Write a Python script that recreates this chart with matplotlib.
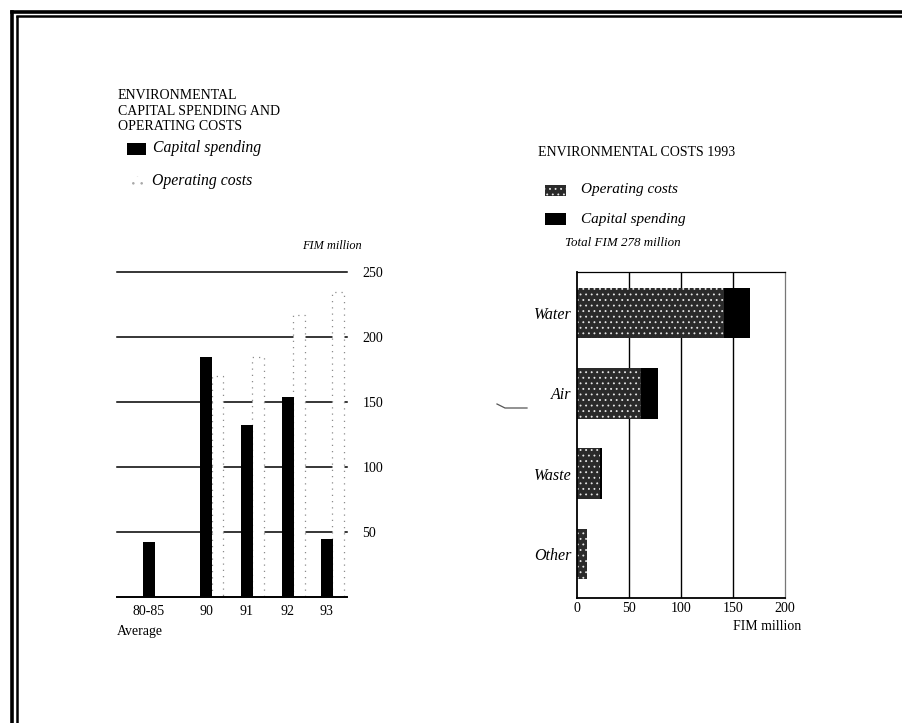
import matplotlib
matplotlib.use('Agg')
import matplotlib.pyplot as plt
import numpy as np
from matplotlib.patches import Rectangle
from matplotlib.lines import Line2D
from matplotlib.transforms import blended_transform_factory

plt.rcParams['font.family'] = ['Liberation Serif', 'DejaVu Serif']
plt.rcParams['hatch.linewidth'] = 0.6

# ---------------- data ----------------
# Left chart: environmental capital spending and operating costs (FIM million)
years = ['80-85', '90', '91', '92', '93']
capital_spending = [42, 185, 132, 154, 45]
operating_costs = [0, 170, 185, 217, 235]
left_yticks = [50, 100, 150, 200, 250]

# Right chart: environmental costs 1993 by area (FIM million)
areas = ['Water', 'Air', 'Waste', 'Other']
area_operating = [141, 62, 22, 10]
area_capital = [25, 16, 2, 0]
right_xticks = [0, 50, 100, 150, 200]

W, H = 903, 723
fig = plt.figure(figsize=(W / 100, H / 100), dpi=100)
fig.patch.set_facecolor('white')


def fx(x):
    return x / W


def fy(y):
    return 1 - y / H


def px_axes(x0, y0, x1, y1):
    return fig.add_axes([fx(x0), fy(y1), fx(x1) - fx(x0), fy(y0) - fy(y1)])


# ---------------- page border ----------------
for (xa, ya, xb, yb, lw) in [(12, 12, 12, 723, 2.6), (17, 17, 17, 723, 1.8),
                             (12, 12, 903, 12, 2.6), (17, 16, 903, 16, 1.8)]:
    fig.add_artist(Line2D([fx(xa), fx(xb)], [fy(ya), fy(yb)], color='black',
                          lw=lw, transform=fig.transFigure))

# ---------------- left chart ----------------
axL = px_axes(117, 272, 347, 597)
positions = np.array([0, 1.39, 2.39, 3.39, 4.34])
bw = 0.29
op_off = 0.28
axL.set_xlim(-0.78, 4.83)
axL.set_ylim(0, 250)
for v in left_yticks:
    axL.axhline(v, color='black', lw=1.1, zorder=1, clip_on=False)
axL.axhline(0, color='black', lw=1.4, zorder=4, clip_on=False)

op_pos = [p + op_off for p, v in zip(positions, operating_costs) if v > 0]
op_val = [v for v in operating_costs if v > 0]
axL.bar(op_pos, op_val, width=bw, color='white', edgecolor='#8c8c8c',
        linestyle=(0, (1, 4)), linewidth=0.9, zorder=2)
axL.bar(positions, capital_spending, width=bw, color='black', zorder=3)

for s in axL.spines.values():
    s.set_visible(False)
axL.yaxis.tick_right()
axL.set_yticks(left_yticks)
axL.set_yticklabels([str(v) for v in left_yticks], fontsize=10)
axL.tick_params(axis='y', length=0, pad=11)
for lab in axL.get_yticklabels():
    lab.set_horizontalalignment('left')
axL.set_xticks(positions)
axL.set_xticklabels(years, fontsize=10)
axL.tick_params(axis='x', length=0, pad=6)
axL.text(positions[0] + 0.33, -0.085, 'Average', fontsize=10, ha='right', va='top',
         transform=blended_transform_factory(axL.transData, axL.transAxes))

fig.text(fx(362), fy(246), 'FIM million', fontsize=8.8, style='italic',
         ha='right', va='center')

fig.text(fx(118), fy(89), 'ENVIRONMENTAL\nCAPITAL SPENDING AND\nOPERATING COSTS',
         fontsize=10, ha='left', va='top', linespacing=1.26)

fig.add_artist(Rectangle((fx(127), fy(155)), fx(146) - fx(127), fy(143) - fy(155),
                         facecolor='black', edgecolor='none', transform=fig.transFigure))
fig.text(fx(153), fy(148), 'Capital spending', fontsize=11.3, style='italic',
         ha='left', va='center')
fig.add_artist(Rectangle((fx(130), fy(187)), fx(144) - fx(130), fy(176) - fy(187),
                         facecolor='white', edgecolor='#a8a8a8', hatch='..', lw=0,
                         transform=fig.transFigure))
fig.text(fx(152), fy(181), 'Operating costs', fontsize=11.3, style='italic',
         ha='left', va='center')

# ---------------- right chart ----------------
axR = px_axes(577, 272, 785, 598)
ypos = np.arange(len(areas))
bh = 0.63
axR.set_xlim(0, 200)
axR.set_ylim(3.55, -0.51)
for v in right_xticks[1:-1]:
    axR.axvline(v, color='black', lw=1.0, zorder=1)
axR.barh(ypos, area_operating, height=bh, color='#2a2a2a', edgecolor='#e8e8e8',
         hatch='...', linewidth=0, zorder=2)
axR.barh(ypos, area_capital, left=area_operating, height=bh, color='black',
         linewidth=0, zorder=2)
for name, s in axR.spines.items():
    s.set_color('black')
    s.set_linewidth(1.3 if name in ('left', 'bottom') else 0.9)
axR.spines['right'].set_color('#777777')
axR.set_xticks(right_xticks)
axR.set_xticklabels([str(v) for v in right_xticks], fontsize=10)
axR.tick_params(axis='x', length=0, pad=3)
axR.set_yticks(ypos)
axR.set_yticklabels(areas, fontsize=11.5, style='italic')
axR.tick_params(axis='y', length=0, pad=4)

fig.text(fx(767), fy(627), 'FIM million', fontsize=10, ha='center', va='center')
fig.text(fx(565), fy(243), 'Total FIM 278 million', fontsize=9.4, style='italic',
         ha='left', va='center')
fig.text(fx(538), fy(152), 'ENVIRONMENTAL COSTS 1993', fontsize=10,
         ha='left', va='center')

fig.add_artist(Rectangle((fx(545), fy(196)), fx(566) - fx(545), fy(185) - fy(196),
                         facecolor='#2a2a2a', edgecolor='#e8e8e8', hatch='...', lw=0,
                         transform=fig.transFigure))
fig.text(fx(581), fy(190), 'Operating costs', fontsize=11, style='italic',
         ha='left', va='center')
fig.add_artist(Rectangle((fx(545), fy(225)), fx(566) - fx(545), fy(213) - fy(225),
                         facecolor='black', edgecolor='none', transform=fig.transFigure))
fig.text(fx(581), fy(219), 'Capital spending', fontsize=11, style='italic',
         ha='left', va='center')

# small stray scan mark near "Air"
fig.add_artist(Line2D([fx(497), fx(505), fx(527)], [fy(404), fy(408), fy(408)],
                      color='#555555', lw=0.9, transform=fig.transFigure))

fig.savefig('out.png', dpi=100)
